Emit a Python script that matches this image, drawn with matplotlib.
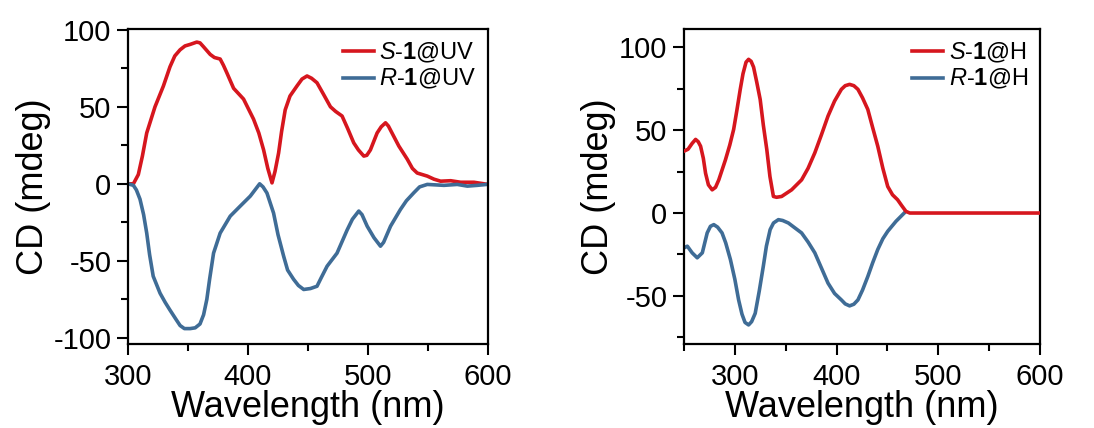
import numpy as np
import matplotlib
matplotlib.use('Agg')
import matplotlib.pyplot as plt
from matplotlib.ticker import MultipleLocator

plt.rcParams['font.family'] = ['Liberation Sans', 'DejaVu Sans']
plt.rcParams['mathtext.fontset'] = 'custom'
plt.rcParams['mathtext.rm'] = 'Liberation Sans'
plt.rcParams['mathtext.it'] = 'Liberation Sans:italic'
plt.rcParams['mathtext.bf'] = 'Liberation Sans:bold'
plt.rcParams['axes.unicode_minus'] = False

# 左图: S-1@UV / R-1@UV
uv_s_x = [300, 304.5, 308.6, 312, 315.6, 322.5, 329.5, 335, 339, 343.4, 347.5, 351.8, 357.3,
          360, 362.9, 368.5, 372, 376.8, 379.5, 382.4, 388, 396.3, 404.6, 409, 413, 416.5,
          420, 422.5, 425.5, 428, 431, 435, 440.8, 445, 449.2, 453, 457.5, 463, 468.7,
          473, 478.4, 483, 488.1, 492, 496.5, 499, 502, 507.6, 511, 514.6, 517, 520,
          525.7, 532.7, 537, 541, 549.4, 555, 560.5, 568.9, 577.2, 588.3, 600]
uv_s_y = [0, 0, 6, 18, 33, 50, 63.5, 76, 83, 87, 89.5, 90.5, 92,
          91.5, 89, 84, 82, 81, 77, 72, 62, 55, 42, 33, 22, 10,
          0.6, 8, 20, 34, 48, 57, 63.5, 68, 70, 68.5, 65.6, 58, 50,
          47, 44, 36, 26.6, 22, 18, 18.5, 22, 33, 37, 39.6, 37.5, 33,
          24.5, 16, 10, 7, 5, 3, 1.7, 2, 1, 1, -0.4]
uv_r_x = [300, 304.5, 307, 310, 313, 315.6, 318, 321, 326.7, 331, 335, 340, 343.4, 347,
          351.8, 356, 360, 363, 365.7, 368, 371.3, 376.8, 385.2, 393.5, 401.9, 409.7, 412.5,
          415.8, 421.3, 425, 429.7, 433, 438, 442, 446.4, 452, 457.5, 461, 465.9, 474.2,
          482.6, 487, 492.3, 495, 499.3, 505, 510.4, 513, 518.8, 527, 532, 538.2, 543,
          549.4, 563.3, 574.4, 582.8, 591, 599]
uv_r_y = [0, -1, -4, -10, -20, -32, -46, -60, -71, -77, -82, -88, -92, -94,
          -94, -93.5, -91, -85, -75, -62, -45, -32, -21, -14.5, -8, 0, -2,
          -6, -19, -33, -47, -56, -62, -66, -68.6, -68, -66.5, -61, -53.5, -45,
          -30, -23, -17.7, -20, -27.5, -35, -40.5, -38, -27.5, -16.7, -11, -5.8, -2,
          -0.4, -1, -0.4, -1.5, -1, -0.4]

# 右图: S-1@H / R-1@H
h_s_x = [250, 254, 258, 261.4, 264, 266.3, 269, 271.2, 274, 277.7, 281, 284.2, 290.7,
         295, 298.8, 302, 305.3, 308, 311, 313.5, 316, 318.4, 321.5, 324.9, 328, 331.4,
         334.5, 337.9, 341, 346, 355.8, 365.6, 372, 378.6, 385, 391.6, 398, 404.7, 408.5,
         412.8, 417, 421, 425.5, 430.7, 435.5, 440.5, 445.5, 450.3, 455, 460, 464, 468.2,
         472, 476.3, 600]
h_s_y = [37.3, 38.5, 42, 44.4, 43, 40.3, 33, 24, 17, 14, 15.5, 20, 32,
         41, 50.4, 62, 74.6, 84, 91, 92.7, 91.5, 88, 79, 68.5, 53, 38.3,
         22, 10, 9.5, 10, 14, 20, 27, 36.3, 47, 58.5, 67.5, 74.6, 76.8,
         77.6, 76.8, 74.6, 69.5, 62.5, 51.5, 40.3, 27, 16, 11, 8, 4.5, 1,
         0, 0, 0]
h_r_x = [250, 253.3, 258, 263, 268, 272.8, 276, 279.3, 283, 287.4, 291, 295.6, 300,
         303.7, 307, 310, 313.5, 316.5, 320, 324, 328, 331, 334.7, 338, 342.8, 347,
         352.6, 365.6, 372, 378.6, 385, 391.6, 398, 404.7, 408.5, 412.8, 417, 421, 425.5,
         430.7, 435.5, 440.5, 445.5, 450.3, 458.4, 466.5]
h_r_y = [-21, -20, -24, -27, -24, -12, -8, -7, -8.5, -12, -18, -28, -40,
         -52.4, -61, -66, -67.5, -65.5, -60.5, -47, -32, -20, -10, -6, -4, -4.5,
         -6, -12, -17.5, -24, -33, -42.3, -48.5, -52.4, -54.8, -56, -55, -52.4, -46.5,
         -38.3, -30, -22, -15.5, -11, -5, 0]

red = '#d6161e'
blue = '#3f6c96'

fig = plt.figure(figsize=(10.94, 4.28), dpi=100)
ax1 = fig.add_axes([128 / 1094, 1 - 344 / 428, 360 / 1094, 315 / 428])
ax2 = fig.add_axes([684 / 1094, 1 - 344 / 428, 356 / 1094, 315 / 428])


def style(ax, xlim, ylim):
    ax.set_xlim(*xlim)
    ax.set_ylim(*ylim)
    ax.xaxis.set_major_locator(MultipleLocator(100))
    ax.xaxis.set_minor_locator(MultipleLocator(50))
    ax.yaxis.set_major_locator(MultipleLocator(50))
    ax.yaxis.set_minor_locator(MultipleLocator(25))
    ax.tick_params(which='major', direction='out', length=8, width=1.5, labelsize=21)
    ax.tick_params(which='minor', direction='out', length=5, width=1.5)
    ax.tick_params(axis='x', which='major', pad=6)
    ax.tick_params(axis='y', which='major', pad=4)
    for s in ax.spines.values():
        s.set_linewidth(1.6)
    ax.set_xlabel('Wavelength (nm)', fontsize=26, labelpad=-1)
    ax.set_ylabel('CD (mdeg)', fontsize=26, labelpad=2)


leg_kw = dict(loc='upper right', fontsize=17, frameon=False, handlelength=1.3,
              handletextpad=0.25, labelspacing=0.1, borderaxespad=0.1)

ax1.plot(uv_s_x, uv_s_y, color=red, lw=2.6, label=r'$\it{S}$-$\mathbf{1}$@UV')
ax1.plot(uv_r_x, uv_r_y, color=blue, lw=2.6, label=r'$\it{R}$-$\mathbf{1}$@UV')
style(ax1, (300, 600), (-104, 100.5))
ax1.legend(**leg_kw)

ax2.plot(h_r_x, h_r_y, color=blue, lw=2.6, label=r'$\it{R}$-$\mathbf{1}$@H', zorder=2)
ax2.plot(h_s_x, h_s_y, color=red, lw=2.6, label=r'$\it{S}$-$\mathbf{1}$@H', zorder=3)
style(ax2, (250, 600), (-79, 111))
h, l = ax2.get_legend_handles_labels()
ax2.legend(h[::-1], l[::-1], **leg_kw)

fig.savefig('out.png', dpi=100)
